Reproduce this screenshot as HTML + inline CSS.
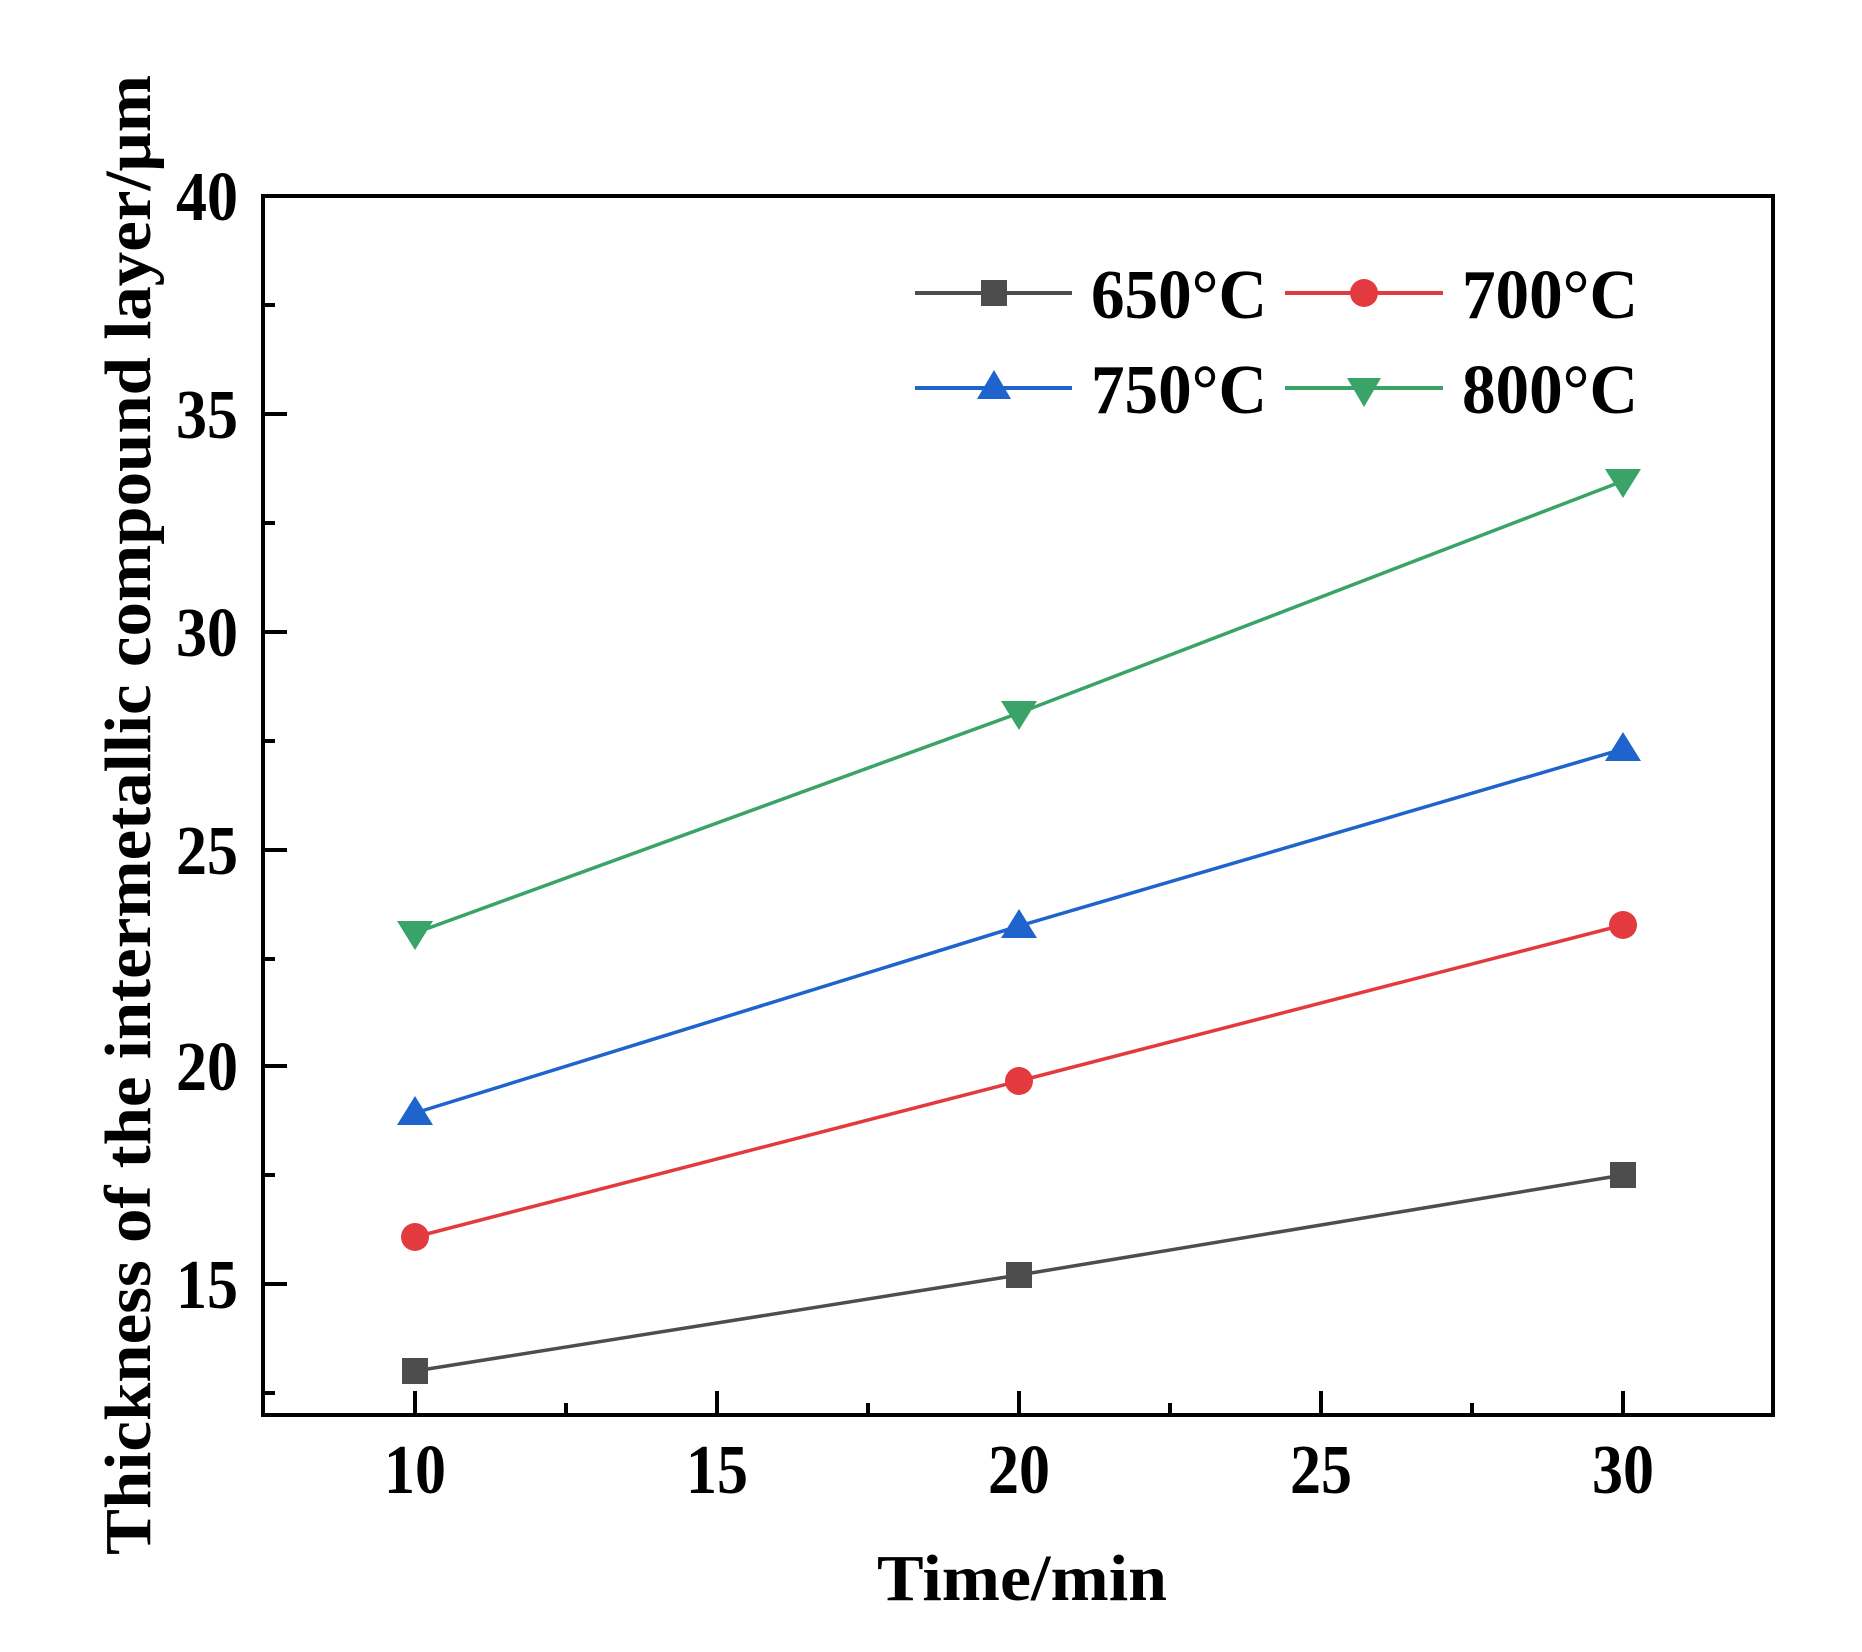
<!DOCTYPE html>
<html><head><meta charset="utf-8"><style>
html,body{margin:0;padding:0;background:#fff;}
svg{display:block;}
text{font-family:"Liberation Serif",serif;font-weight:bold;fill:#000;}
</style></head><body>
<svg width="1862" height="1652" viewBox="0 0 1862 1652" xmlns="http://www.w3.org/2000/svg">
<rect width="1862" height="1652" fill="#fff"/>
<rect x="263" y="196" width="1510" height="1219" fill="none" stroke="#000" stroke-width="4"/>
<g stroke="#000" stroke-width="4">
<line x1="263" y1="196" x2="287" y2="196"/>
<line x1="263" y1="305" x2="275" y2="305"/>
<line x1="263" y1="414" x2="287" y2="414"/>
<line x1="263" y1="523" x2="275" y2="523"/>
<line x1="263" y1="632" x2="287" y2="632"/>
<line x1="263" y1="741" x2="275" y2="741"/>
<line x1="263" y1="850" x2="287" y2="850"/>
<line x1="263" y1="959" x2="275" y2="959"/>
<line x1="263" y1="1066" x2="287" y2="1066"/>
<line x1="263" y1="1175" x2="275" y2="1175"/>
<line x1="263" y1="1284" x2="287" y2="1284"/>
<line x1="263" y1="1393" x2="275" y2="1393"/>
<line x1="415" y1="1415" x2="415" y2="1391"/>
<line x1="566" y1="1415" x2="566" y2="1403"/>
<line x1="717" y1="1415" x2="717" y2="1391"/>
<line x1="868" y1="1415" x2="868" y2="1403"/>
<line x1="1019" y1="1415" x2="1019" y2="1391"/>
<line x1="1170" y1="1415" x2="1170" y2="1403"/>
<line x1="1321" y1="1415" x2="1321" y2="1391"/>
<line x1="1472" y1="1415" x2="1472" y2="1403"/>
<line x1="1623" y1="1415" x2="1623" y2="1391"/>
</g>
<g font-size="70" text-anchor="end">
<text x="238" y="220" textLength="62" lengthAdjust="spacingAndGlyphs">40</text>
<text x="238" y="438" textLength="62" lengthAdjust="spacingAndGlyphs">35</text>
<text x="238" y="656" textLength="62" lengthAdjust="spacingAndGlyphs">30</text>
<text x="238" y="874" textLength="62" lengthAdjust="spacingAndGlyphs">25</text>
<text x="238" y="1090" textLength="62" lengthAdjust="spacingAndGlyphs">20</text>
<text x="238" y="1308" textLength="62" lengthAdjust="spacingAndGlyphs">15</text>
</g>
<g font-size="70" text-anchor="middle">
<text x="415" y="1493" textLength="62" lengthAdjust="spacingAndGlyphs">10</text>
<text x="717" y="1493" textLength="62" lengthAdjust="spacingAndGlyphs">15</text>
<text x="1019" y="1493" textLength="62" lengthAdjust="spacingAndGlyphs">20</text>
<text x="1321" y="1493" textLength="62" lengthAdjust="spacingAndGlyphs">25</text>
<text x="1623" y="1493" textLength="62" lengthAdjust="spacingAndGlyphs">30</text>
</g>
<text x="1022" y="1600" font-size="66" text-anchor="middle" textLength="290" lengthAdjust="spacingAndGlyphs">Time/min</text>
<text transform="translate(150,815) rotate(-90)" font-size="66" text-anchor="middle" textLength="1480" lengthAdjust="spacingAndGlyphs">Thickness of the intermetallic compound layer/μm</text>
<g fill="none" stroke-width="3.5">
<polyline stroke="#4d4d4d" points="415,1371 1019,1275 1623,1175"/>
<polyline stroke="#e23a3e" points="415,1237 1019,1081 1623,925"/>
<polyline stroke="#1f63cc" points="415,1113 1019,926 1623,749"/>
<polyline stroke="#3aa468" points="415,933 1019,713 1623,481"/>
</g>
<g fill="#4d4d4d">
<rect x="402" y="1358" width="26" height="26"/><rect x="1006" y="1262" width="26" height="26"/><rect x="1610" y="1162" width="26" height="26"/>
</g>
<g fill="#e23a3e">
<circle cx="415" cy="1237" r="14"/><circle cx="1019" cy="1081" r="14"/><circle cx="1623" cy="925" r="14"/>
</g>
<g fill="#1f63cc">
<polygon points="415,1096 397,1125 433,1125"/><polygon points="1019,909 1001,938 1037,938"/><polygon points="1623,732 1605,761 1641,761"/>
</g>
<g fill="#3aa468">
<polygon points="415,950 397,921 433,921"/><polygon points="1019,730 1001,701 1037,701"/><polygon points="1623,498 1605,469 1641,469"/>
</g>
<line x1="915" y1="293" x2="1072" y2="293" stroke="#4d4d4d" stroke-width="4"/>
<rect x="981" y="280" width="26" height="26" fill="#4d4d4d"/>
<text x="1091" y="318" font-size="70" textLength="176" lengthAdjust="spacingAndGlyphs">650°C</text>
<line x1="1285" y1="293" x2="1443" y2="293" stroke="#e23a3e" stroke-width="4"/>
<circle cx="1364" cy="293" r="14" fill="#e23a3e"/>
<text x="1462" y="318" font-size="70" textLength="176" lengthAdjust="spacingAndGlyphs">700°C</text>
<line x1="915" y1="388" x2="1072" y2="388" stroke="#1f63cc" stroke-width="4"/>
<polygon points="994,370 977,399 1011,399" fill="#1f63cc"/>
<text x="1091" y="413" font-size="70" textLength="176" lengthAdjust="spacingAndGlyphs">750°C</text>
<line x1="1285" y1="388" x2="1443" y2="388" stroke="#3aa468" stroke-width="4"/>
<polygon points="1364,407 1347,378 1381,378" fill="#3aa468"/>
<text x="1462" y="413" font-size="70" textLength="176" lengthAdjust="spacingAndGlyphs">800°C</text>
</svg>
</body></html>
